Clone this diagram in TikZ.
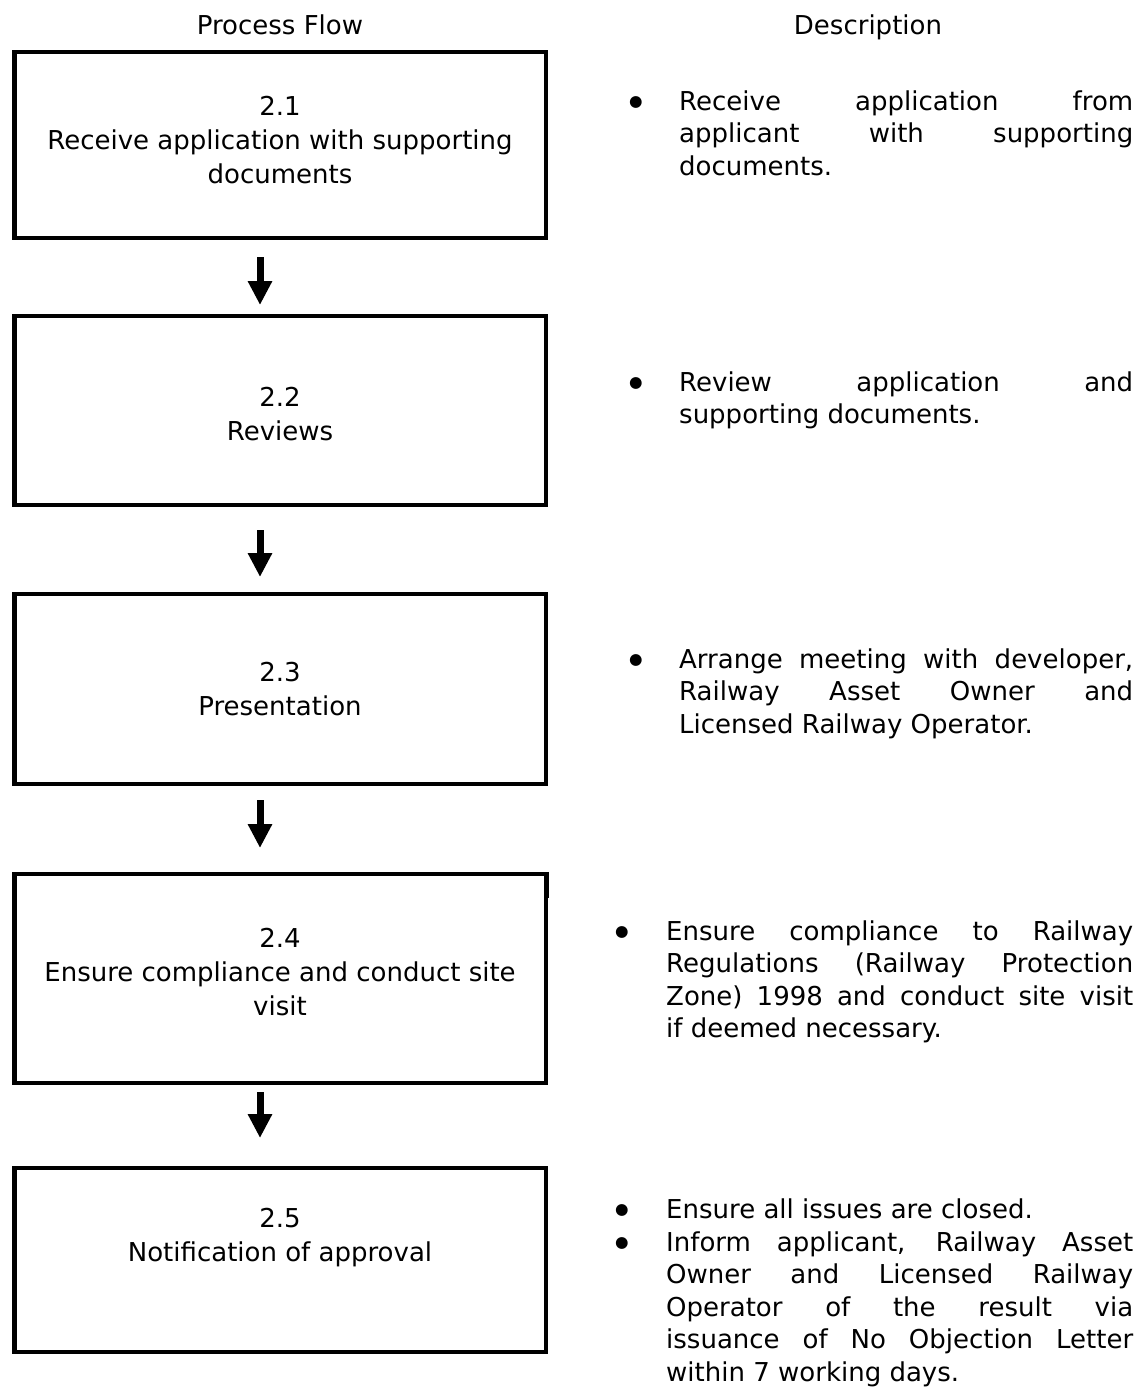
\documentclass[tikz,border=0pt]{standalone}
\usepackage{fontspec}
\setmainfont{DejaVu Sans}
\usetikzlibrary{arrows.meta,calc}
\tolerance=10000
\hbadness=10000
\hyphenpenalty=10000
\exhyphenpenalty=10000
\begin{document}
\begin{tikzpicture}[x=1pt,y=-1pt,
  flowbox/.style={draw, line width=4.5pt, inner sep=0pt, outer sep=0pt, minimum width=531.5pt},
  boxtext/.style={font=\fontsize{26}{34}\selectfont, align=center, inner sep=0pt, anchor=north},
  desctext/.style={font=\fontsize{26}{32.5}\selectfont, align=justify, inner sep=0pt, anchor=base west},
  bulletmark/.style={font=\fontsize{15.5}{15.5}\selectfont, inner sep=0pt, anchor=base},
  coltitle/.style={font=\fontsize{26}{32.5}\selectfont, inner sep=0pt, anchor=base},
  arr/.style={line width=7pt, -{Triangle[width=23pt,length=24pt]}}
]
\useasboundingbox (0,0) rectangle (1147,1387);

% column titles
\node[coltitle] (t1) at (280,34) {Process Flow};
\node[coltitle] (t2) at (868,34) {Description};

% boxes
\node[flowbox, minimum height=186pt] (b1) at (280,145) {};
\node[flowbox, minimum height=189pt] (b2) at (280,410.5) {};
\node[flowbox, minimum height=190pt] (b3) at (280,689) {};
\node[flowbox, minimum height=209pt] (b4) at (280,978.5) {};
\node[flowbox, minimum height=184pt] (b5) at (280,1260) {};
\draw[line width=2.5pt] ($(b4.north east)+(1.5,-2.25)$) -- ++(0,26);

% box texts
\node[boxtext] (l1) at (280,96) {2.1\\Receive application with supporting\\documents};
\node[boxtext] (l2) at (280,387) {2.2\\Reviews};
\node[boxtext] (l3) at (280,662) {2.3\\Presentation};
\node[boxtext] (l4) at (280,928) {2.4\\Ensure compliance and conduct site\\visit};
\node[boxtext] (l5) at (280,1208) {2.5\\Notification of approval};

% arrows
\draw[arr] ($(b1.south)+(-20,19)$) -- ($(b2.north)+(-20,-11)$);
\draw[arr] ($(b2.south)+(-20,25)$) -- ($(b3.north)+(-20,-17)$);
\draw[arr] ($(b3.south)+(-20,16)$) -- ($(b4.north)+(-20,-26)$);
\draw[arr] ($(b4.south)+(-20,9)$) -- ($(b5.north)+(-20,-30)$);

% descriptions
\node[bulletmark] (p1) at (636,106) {●};
\node[desctext, text width=454pt] (d1) at (679,110)
  {Receive application from\linebreak applicant with supporting\linebreak documents.};

\node[bulletmark] (p2) at (636,387) {●};
\node[desctext, text width=454pt] (d2) at (679,391)
  {Review application and\linebreak supporting documents.};

\node[bulletmark] (p3) at (636,664) {●};
\node[desctext, text width=454pt] (d3) at (679,668)
  {Arrange meeting with developer,\linebreak Railway Asset Owner and\linebreak Licensed Railway Operator.};

\node[bulletmark] (p4) at (622,936) {●};
\node[desctext, text width=467pt] (d4) at (666,940)
  {Ensure compliance to Railway\linebreak Regulations (Railway Protection\linebreak Zone) 1998 and conduct site visit\linebreak if deemed necessary.};

\node[bulletmark] (p5a) at (622,1214) {●};
\node[desctext, text width=467pt] (d5a) at (666,1218)
  {Ensure all issues are closed.};

\node[bulletmark] (p5b) at (622,1247) {●};
\node[desctext, text width=467pt] (d5b) at (666,1251)
  {Inform applicant, Railway Asset\linebreak Owner and Licensed Railway\linebreak Operator of the result via\linebreak issuance of No Objection Letter\linebreak within 7 working days.};
\end{tikzpicture}
\end{document}
